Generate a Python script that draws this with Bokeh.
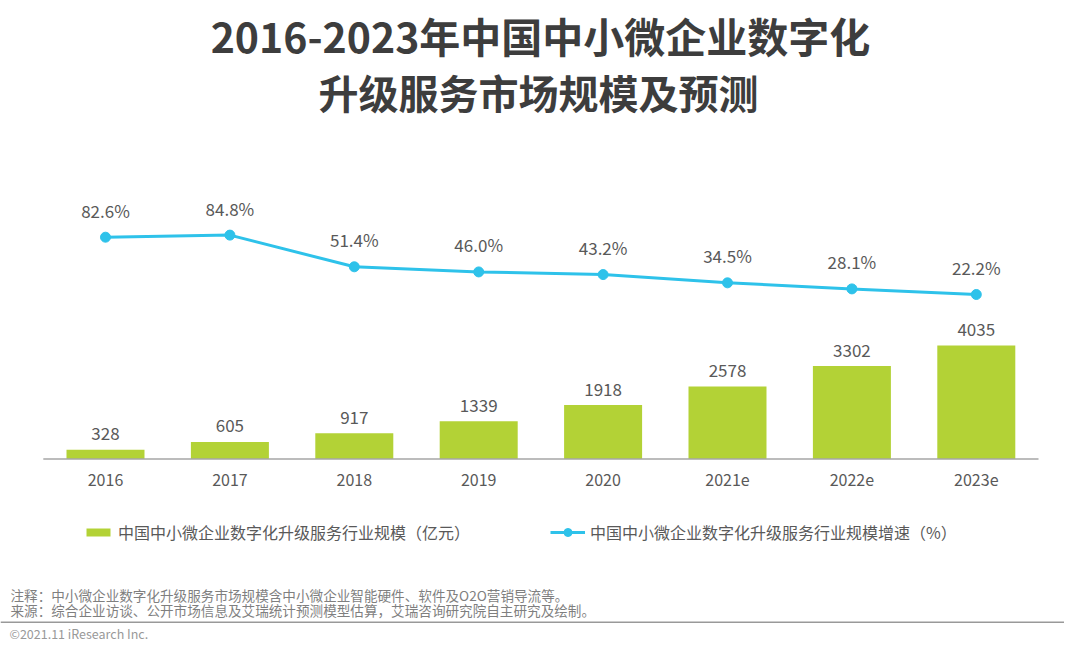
from bokeh.plotting import figure
from bokeh.models import ColumnDataSource, Range1d, Legend, LegendItem
from bokeh.core.properties import value
from bokeh.embed import file_html
from bokeh.resources import INLINE

# ---- data ----
years = ["2016", "2017", "2018", "2019", "2020", "2021e", "2022e", "2023e"]
market = [328, 605, 917, 1339, 1918, 2578, 3302, 4035]          # 亿元
growth = [82.6, 84.8, 51.4, 46.0, 43.2, 34.5, 28.1, 22.2]       # %

title_lines = ["2016-2023年中国中小微企业数字化", "升级服务市场规模及预测"]
legend_bar = "中国中小微企业数字化升级服务行业规模（亿元）"
legend_line = "中国中小微企业数字化升级服务行业规模增速（%）"
note_lines = [
    "注释：中小微企业数字化升级服务市场规模含中小微企业智能硬件、软件及O2O营销导流等。",
    "来源：综合企业访谈、公开市场信息及艾瑞统计预测模型估算，艾瑞咨询研究院自主研究及绘制。",
]
copyright_text = "©2021.11 iResearch Inc."

# ---- layout constants ----
W, H = 1064, 645
FONT = "Noto Sans CJK SC"
BAR_COLOR = "#B3D236"
LINE_COLOR = "#2EC2EA"
TEXT_COLOR = "#595959"

n = len(years)
idx = list(range(n))
step = 124.4                      # px per category
x0 = -(105.0 / step)
xr = Range1d(x0, x0 + W / step)

base_px = 458.5                   # canvas y of the baseline
upp = 4035 / 113.5                # bar units per pixel
yr = Range1d(-(H - base_px) * upp, base_px * upp)

pct_per_px = 1 / 0.9487
pct_zero_px = 315.06
pct_range = Range1d((pct_zero_px - H) * pct_per_px, pct_zero_px * pct_per_px)

p = figure(width=W, height=H, x_range=xr, y_range=yr,
           output_backend="svg", toolbar_location=None,
           x_axis_location=None, y_axis_location=None,
           min_border=0, min_border_left=0, min_border_right=0,
           min_border_top=0, min_border_bottom=0,
           outline_line_color=None, background_fill_color="white",
           border_fill_color="white")
p.xgrid.visible = False
p.ygrid.visible = False
p.extra_y_ranges = {"pct": pct_range, "page": Range1d(H, 0)}
p.extra_x_ranges = {"pagex": Range1d(0, W)}

src = ColumnDataSource(dict(
    x=idx, year=years, market=market, growth=growth,
    mlabel=[str(v) for v in market],
    glabel=[f"{v:.1f}%" for v in growth],
    tick_y=[479.5] * n,
))

# bars
bars = p.vbar(x="x", top="market", bottom=0, width=0.627, source=src,
              fill_color=BAR_COLOR, line_color=None)

# baseline
p.segment(x0=[-0.5], y0=[0], x1=[n - 0.5], y1=[0],
          line_color="#A6A6A6", line_width=1.5)

# bar value labels
p.text(x="x", y="market", text="mlabel", source=src, text_align="center",
       text_baseline="alphabetic", y_offset=-16, text_font=value(FONT),
       text_font_size="17px", text_color=TEXT_COLOR)

# category labels
p.text(x="x", y="tick_y", y_range_name="page", text="year", source=src,
       text_align="center", text_baseline="alphabetic",
       text_font=value(FONT), text_font_size="16px", text_color=TEXT_COLOR)

# growth line
ln = p.line(x="x", y="growth", y_range_name="pct", source=src,
            line_color=LINE_COLOR, line_width=3)
pts = p.scatter(x="x", y="growth", y_range_name="pct", source=src,
                size=10, marker="circle", fill_color=LINE_COLOR,
                line_color=LINE_COLOR)
p.text(x="x", y="growth", y_range_name="pct", text="glabel", source=src,
       text_align="center", text_baseline="alphabetic", y_offset=-27,
       text_font=value(FONT), text_font_size="17px", text_color=TEXT_COLOR)

# title
p.text(x=[540], y=[34], x_range_name="pagex", y_range_name="page",
       text=title_lines[:1], text_align="center", text_baseline="alphabetic",
       text_font=value(FONT), text_font_style="bold", text_font_size="41px",
       text_color="#3D3D3D")
p.text(x=[538], y=[91], x_range_name="pagex", y_range_name="page",
       text=title_lines[1:], text_align="center", text_baseline="alphabetic",
       text_font=value(FONT), text_font_style="bold", text_font_size="40px",
       text_color="#3D3D3D")

# legends
leg_common = dict(orientation="horizontal", padding=0, margin=0,
                  border_line_alpha=0, background_fill_alpha=0,
                  label_text_font=FONT, label_text_font_size="16px",
                  label_text_color=TEXT_COLOR, label_standoff=5,
                  label_height=20, spacing=0)
leg1 = Legend(items=[LegendItem(label=legend_bar, renderers=[bars])],
              location=(83, 101), glyph_width=30, glyph_height=10, **leg_common)
leg2 = Legend(items=[LegendItem(label=legend_line, renderers=[ln, pts])],
              location=(550, 101), glyph_width=35, glyph_height=20, **leg_common)
p.add_layout(leg1)
p.add_layout(leg2)

# footnotes
p.text(x=[10, 10], y=[594, 609], x_range_name="pagex", y_range_name="page",
       text=note_lines, text_align="left", text_baseline="alphabetic",
       text_font=value(FONT), text_font_size="13.6px", text_color="#7F7F7F")
p.segment(x0=[0], y0=[621.7], x1=[W], y1=[621.7], x_range_name="pagex",
          y_range_name="page", line_color="#999999", line_width=1.5)
p.text(x=[9], y=[633], x_range_name="pagex", y_range_name="page",
       text=[copyright_text], text_align="left", text_baseline="alphabetic",
       text_font=value(FONT), text_font_size="12.5px", text_color="#999999")

open("out.html", "w").write(file_html(p, INLINE))
